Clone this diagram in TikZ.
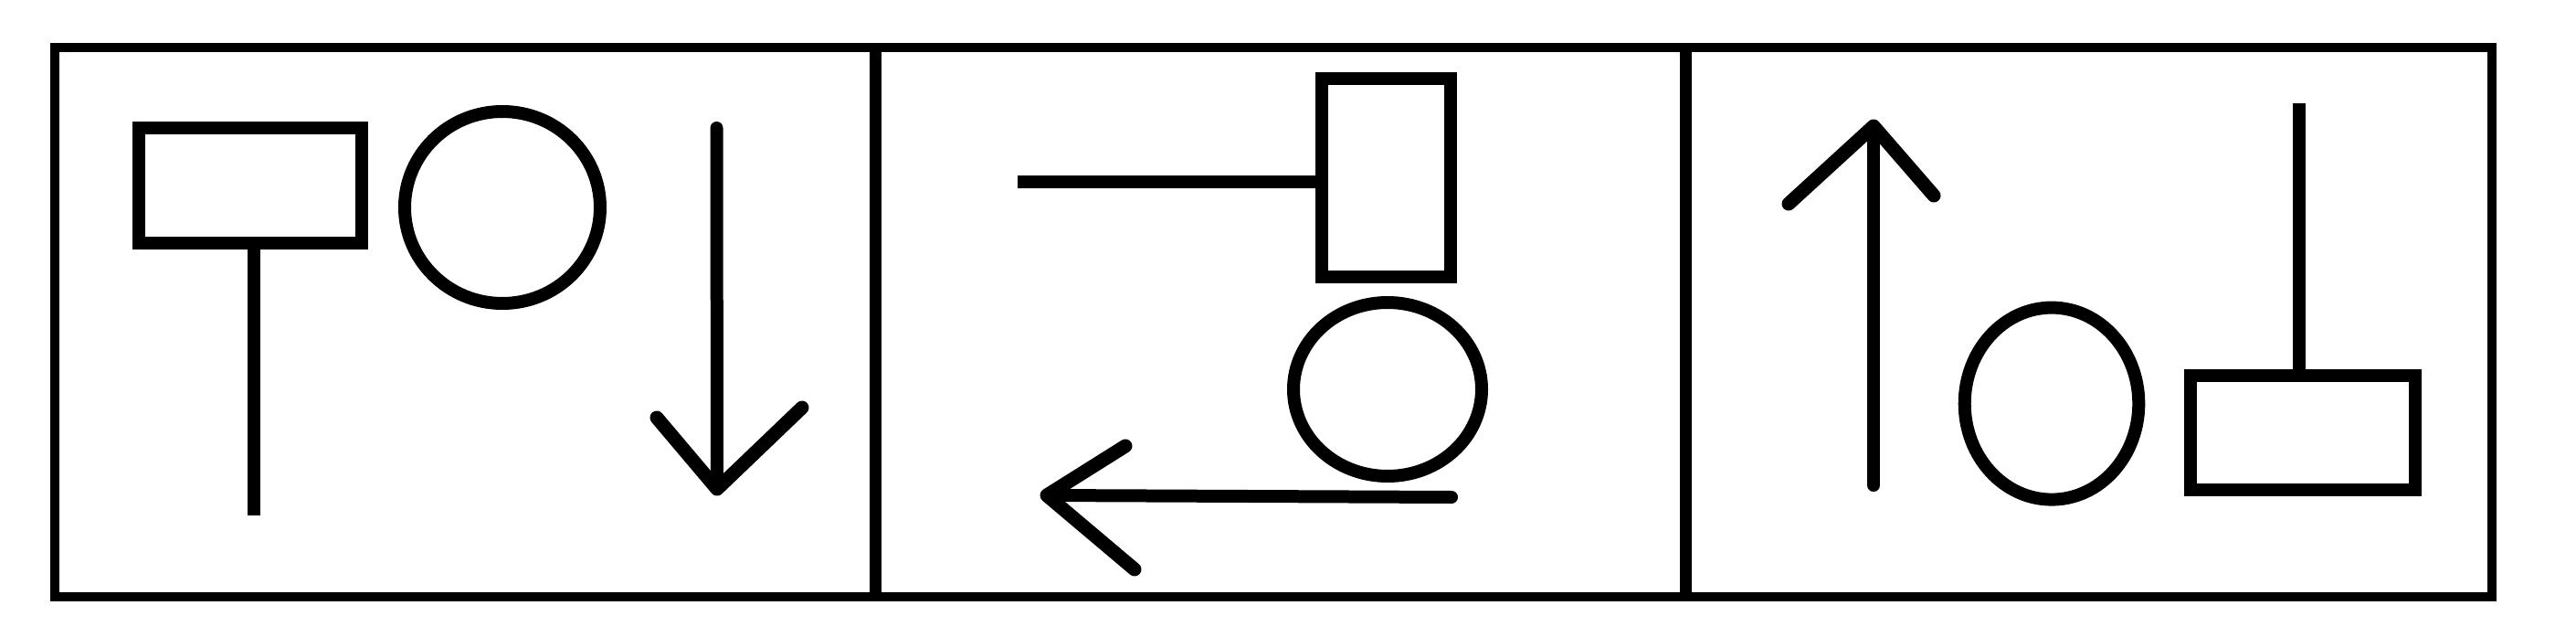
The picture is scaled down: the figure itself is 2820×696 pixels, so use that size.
\documentclass[tikz,border=0pt]{standalone}
\usetikzlibrary{shapes.geometric}
\begin{document}
\begin{tikzpicture}[x=1pt,y=-1pt,
  frame/.style={line width=10pt,draw=black},
  divider/.style={line width=13pt,draw=black},
  boxshape/.style={draw=black,line width=14pt,rectangle,inner sep=0pt,outer sep=0pt},
  ringshape/.style={draw=black,line width=14pt,ellipse,inner sep=0pt,outer sep=0pt},
  stemline/.style={draw=black,line width=14pt,line cap=butt},
  arrowline/.style={draw=black,line width=14pt,line cap=round,line join=round},
  headline/.style={draw=black,line width=15pt,line cap=round,line join=round}]
\useasboundingbox (0,0) rectangle (2820,696);
% frame
\draw[frame] (60,52) rectangle (2728,653);
\coordinate (d1t) at (958,52); \coordinate (d1b) at (958,653);
\coordinate (d2t) at (1845,52); \coordinate (d2b) at (1845,653);
\draw[divider] (d1t) -- (d1b);
\draw[divider] (d2t) -- (d2b);
% panel 1
\node[boxshape,minimum width=244pt,minimum height=126.5pt] (r1) at (273.5,202.75) {};
\coordinate (s1) at (277.5,564);
\draw[stemline] (r1.south -| s1) -- (s1);
\node[ringshape,minimum width=214pt,minimum height=210pt] (e1) at (550,227) {};
\coordinate (a1s) at (784.5,140); \coordinate (a1t) at (785,535);
\coordinate (a1l) at (719,457); \coordinate (a1r) at (878,446);
\draw[arrowline] (a1s) -- (a1t);
\draw[headline] (a1l) -- (a1t) -- (a1r);
% panel 2
\node[boxshape,minimum width=141pt,minimum height=217.5pt] (r2) at (1517.8,194.25) {};
\coordinate (s2) at (1114,198.6);
\draw[stemline] (r2.west |- s2) -- (s2);
\node[ringshape,minimum width=206pt,minimum height=190pt] (e2) at (1519,426) {};
\coordinate (a2s) at (1589,544); \coordinate (a2t) at (1146,542);
\coordinate (a2u) at (1232,488); \coordinate (a2d) at (1242,623);
\draw[arrowline] (a2s) -- (a2t);
\draw[headline] (a2u) -- (a2t) -- (a2d);
% panel 3
\coordinate (a3s) at (2051,531); \coordinate (a3t) at (2051,138);
\coordinate (a3l) at (1958,223); \coordinate (a3r) at (2117,214);
\draw[arrowline] (a3s) -- (a3t);
\draw[headline] (a3l) -- (a3t) -- (a3r);
\node[ringshape,minimum width=190.6pt,minimum height=210pt] (e3) at (2246,441.6) {};
\node[boxshape,minimum width=246pt,minimum height=125.1pt] (r3) at (2521,473.15) {};
\coordinate (s3) at (2517,113);
\draw[stemline] (r3.north -| s3) -- (s3);
\end{tikzpicture}
\end{document}
